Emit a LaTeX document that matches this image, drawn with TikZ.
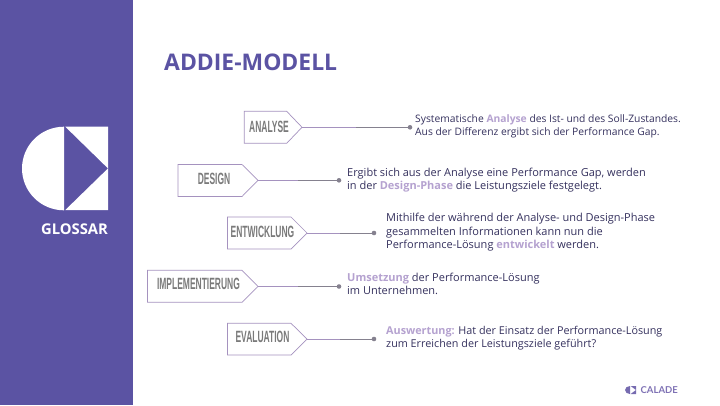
\documentclass[tikz,border=0pt]{standalone}
\usepackage{fontspec}
\setmainfont{Open Sans}
\newfontfamily\condf[FakeStretch=0.52]{Liberation Sans}
\newfontfamily\logof{Lato}
\definecolor{sidebar}{HTML}{5B53A3}
\definecolor{boxline}{HTML}{A592BF}
\definecolor{linegrey}{HTML}{85818F}
\definecolor{labelgrey}{HTML}{7A7A7A}
\definecolor{bodytext}{HTML}{35315E}
\definecolor{hl}{HTML}{B5A2D0}
\newcommand{\hlt}[1]{\textcolor{hl}{\textbf{#1}}}
\tikzset{
  x=1pt,y=-1pt,
  boxshape/.style={draw=boxline,line width=0.7pt,fill=white},
  boxlabel/.style={text=labelgrey,font=\condf\bfseries\fontsize{16.3}{17}\selectfont,inner sep=0pt},
  conn/.style={draw=boxline,line width=0.8pt},
  conngrey/.style={draw=linegrey,line width=0.8pt},
  enddot/.style={circle,fill=linegrey,inner sep=0pt,minimum size=4.6pt},
  desc/.style={text=bodytext,anchor=west,align=left,inner sep=0pt,font=\fontsize{11}{13.4}\selectfont},
  descsmall/.style={desc,font=\fontsize{10.3}{13}\selectfont},
}
\begin{document}
\begin{tikzpicture}
\useasboundingbox (0,0) rectangle (720,405);
\fill[white] (0,0) rectangle (720,405);
\fill[sidebar] (0,0) rectangle (133,405);
% logo
\fill[white] (64,126.7) arc[start angle=90,end angle=270,x radius=42,y radius=-41.8] -- cycle;
\fill[white] (65.3,126.7) -- (108,126.7) -- (108,210) -- (65.3,210) -- (108,168.4) -- cycle;
\node (glossar) at (74.5,229) [text=white,font=\fontsize{14.8}{16}\selectfont\bfseries,inner sep=0pt] {GLOSSAR};
\node (title) at (164,62) [anchor=west,text=sidebar,font=\fontsize{22.9}{26}\selectfont\bfseries,inner sep=0pt] {ADDIE-MODELL};
% Analyse
\draw[boxshape] (244.3,111.3) -- (286.7,111.3) -- (302,127.3) coordinate (ta) -- (286.7,143.3) -- (244.3,143.3) -- cycle;
\node (la) at (269,126.5) [boxlabel] {ANALYSE};
\node[enddot] (da) at (410,127.3) {};
\coordinate (ma) at (356,127.3);
\draw[conn] (ta) -- (ma); \draw[conngrey] (ma) -- (da);
\node (xa) at (415,126.8) [descsmall] {Systematische \hlt{Analyse} des Ist- und des Soll-Zustandes.\\Aus der Differenz ergibt sich der Performance Gap.};
% Design
\draw[boxshape] (178,164.5) -- (242,164.5) -- (258,180.3) coordinate (td) -- (242,196.5) -- (178,196.5) -- cycle;
\node (ld) at (214,179) [boxlabel] {DESIGN};
\node[enddot] (dd) at (339,180.3) {};
\coordinate (md) at (298,180.3);
\draw[conn] (td) -- (md); \draw[conngrey] (md) -- (dd);
\node (xd) at (347,180) [desc] {Ergibt sich aus der Analyse eine Performance Gap, werden\\in der \hlt{Design-Phase} die Leistungsziele festgelegt.};
% Entwicklung
\draw[boxshape] (227.5,217) -- (291,217) -- (307,233) coordinate (te) -- (291,249) -- (227.5,249) -- cycle;
\node (le) at (262.5,232) [boxlabel] {ENTWICKLUNG};
\node[enddot] (de) at (374,233) {};
\coordinate (me) at (340,233);
\draw[conn] (te) -- (me); \draw[conngrey] (me) -- (de);
\node (xe) at (386,232.5) [desc] {Mithilfe der während der Analyse- und Design-Phase\\gesammelten Informationen kann nun die\\Performance-Lösung \hlt{entwickelt} werden.};
% Implementierung
\draw[boxshape] (147.5,270.3) -- (242,270.3) -- (258,286.5) coordinate (ti) -- (242,302.3) -- (147.5,302.3) -- cycle;
\node (li) at (198.5,284) [boxlabel] {IMPLEMENTIERUNG};
\node[enddot] (di) at (339,286.5) {};
\coordinate (mi) at (298,286.5);
\draw[conn] (ti) -- (mi); \draw[conngrey] (mi) -- (di);
\node (xi) at (347,284) [desc] {\hlt{Umsetzung} der Performance-Lösung\\im Unternehmen.};
% Evaluation
\draw[boxshape] (227.5,323.3) -- (291,323.3) -- (307,339) coordinate (tv) -- (291,355) -- (227.5,355) -- cycle;
\node (lv) at (262.5,337) [boxlabel] {EVALUATION};
\node[enddot] (dv) at (374,339) {};
\coordinate (mv) at (340,339);
\draw[conn] (tv) -- (mv); \draw[conngrey] (mv) -- (dv);
\node (xv) at (386,338) [desc,font=\fontsize{10.8}{13.4}\selectfont] {\hlt{Auswertung:} Hat der Einsatz der Performance-Lösung\\zum Erreichen der Leistungsziele geführt?};
% footer logo
\fill[sidebar!70!hl] (630,386) arc[start angle=90,end angle=270,x radius=5,y radius=-4] -- cycle;
\fill[sidebar!70!hl] (630.6,386) -- (636,386) -- (636,394) -- (630.6,394) -- (636,390) -- cycle;
\node (calade) at (640.5,390) [anchor=west,text=sidebar!60!hl,font=\logof\bfseries\fontsize{9.5}{10}\selectfont,inner sep=0pt] {CALADE};
\end{tikzpicture}
\end{document}
